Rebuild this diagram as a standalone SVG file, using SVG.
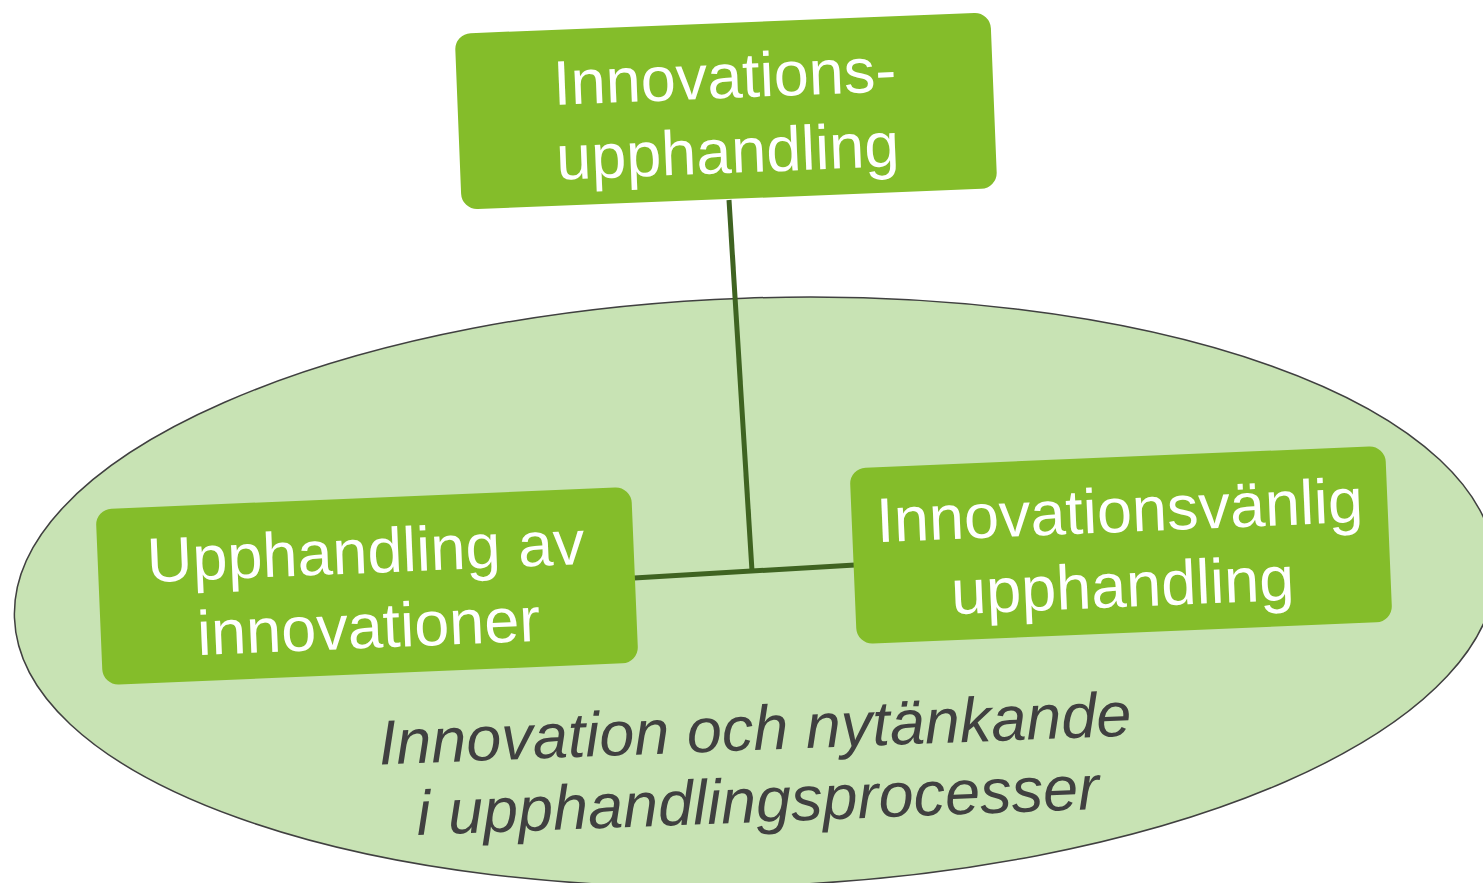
<svg xmlns="http://www.w3.org/2000/svg" width="1483" height="883" viewBox="0 0 1483 883">
<style>
.box{fill:#84BD2A;}
.lbl{fill:#FFFFFF;font-family:"Liberation Sans",Arial,sans-serif;font-size:63px;text-anchor:middle;}
.sub{fill:#404040;font-family:"Liberation Sans",Arial,sans-serif;font-size:63px;font-style:italic;text-anchor:middle;}
.conn{stroke:#3F6321;stroke-width:5;fill:none;}
</style>
<rect width="1483" height="883" fill="#FFFFFF"/>
<g id="ellipse">
<ellipse cx="0" cy="0" rx="741" ry="294" transform="translate(755,592) rotate(-2)" fill="#C8E3B4" stroke="#404040" stroke-width="1.5"/>
<g transform="translate(757,785) rotate(-2.2)">
<text class="sub" x="0" y="-35">Innovation och nytänkande</text>
<text class="sub" x="0" y="37">i upphandlingsprocesser</text>
</g>
</g>
<g id="connectors">
<line class="conn" x1="729" y1="200" x2="752" y2="571"/>
<line class="conn" x1="634" y1="578" x2="855" y2="565"/>
</g>
<g id="node-top" transform="translate(726,111) rotate(-2.3)">
<rect class="box" x="-268" y="-88" width="536" height="176" rx="16"/>
<text class="lbl" x="0" y="-13">Innovations-</text>
<text class="lbl" x="0" y="62">upphandling</text>
</g>
<g id="node-left" transform="translate(367,586) rotate(-2.4)">
<rect class="box" x="-268" y="-88" width="536" height="176" rx="16"/>
<text class="lbl" x="0" y="-13">Upphandling av</text>
<text class="lbl" x="0" y="62">innovationer</text>
</g>
<g id="node-right" transform="translate(1121,545) rotate(-2.4)">
<rect class="box" x="-268" y="-88" width="536" height="176" rx="16"/>
<text class="lbl" x="0" y="-13">Innovationsvänlig</text>
<text class="lbl" x="0" y="62">upphandling</text>
</g>
</svg>
